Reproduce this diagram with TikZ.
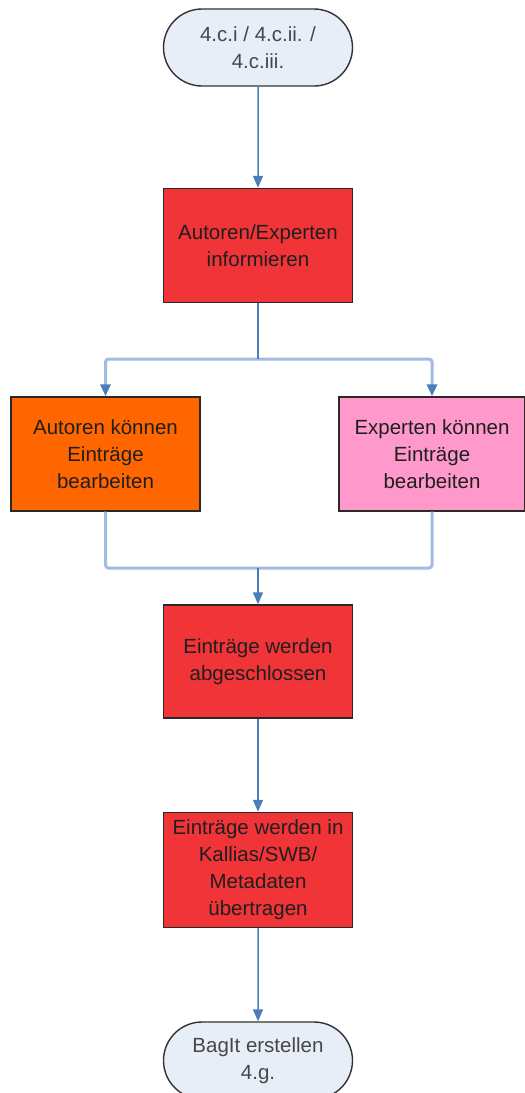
\documentclass[tikz,border=0pt]{standalone}
\usepackage{fontspec}
\setmainfont{Liberation Sans}
\usetikzlibrary{arrows.meta,shapes.misc}

\definecolor{boxred}{RGB}{240,52,56}
\definecolor{boxorange}{RGB}{255,102,0}
\definecolor{boxpink}{RGB}{255,153,204}
\definecolor{termfill}{RGB}{232,238,247}
\definecolor{linkdark}{RGB}{74,126,187}
\definecolor{linklight}{RGB}{160,188,228}
\definecolor{edgecol}{RGB}{45,40,40}

\begin{document}
\begin{tikzpicture}[x=1pt,y=-1pt,
  base/.style={draw=edgecol, line width=1.4pt, minimum width=189pt,
    inner sep=0pt, align=center, font=\fontsize{20.5}{27}\selectfont},
  process/.style={base, rectangle, minimum height=114pt, text=black!88},
  terminal/.style={base, rounded rectangle, minimum height=77pt,
    fill=termfill, draw=black!80, text=black!72},
  tiphead/.style={-{Triangle[length=12pt,width=10pt,color=linkdark]}},
  flow/.style={draw=linkdark, line width=1.5pt},
  branch/.style={draw=linklight, line width=3pt, rounded corners=3pt}
]
\clip (0,0) rectangle (525,1093);
\fill[white] (0,0) rectangle (525,1093);

% nodes
\node[terminal] (start) at (258,47.5) {4.c.i / 4.c.ii. /\\4.c.iii.};
\node[process, fill=boxred] (inform) at (258,245.5) {Autoren/Experten\\informieren};
\node[process, fill=boxorange] (autoren) at (105.5,454) {Autoren können\\Einträge\\bearbeiten};
\node[process, fill=boxpink, minimum width=186pt] (experten) at (432,454) {Experten können\\Einträge\\bearbeiten};
\node[process, fill=boxred, minimum height=113pt] (close) at (258,661.5) {Einträge werden\\abgeschlossen};
\node[process, fill=boxred, minimum height=115pt] (transfer) at (258,870) {Einträge werden in\\Kallias/SWB/\\Metadaten\\übertragen};
\node[terminal] (bagit) at (258,1060.5) {BagIt erstellen\\4.g.};

\coordinate (split) at (258,359);
\coordinate (merge) at (258,568);

% connectors
\draw[flow, tiphead] (start) -- (inform);
\draw[branch, tiphead] (split) -| (autoren.north);
\draw[branch, tiphead] (split) -| (experten.north);
\draw[flow] (inform) -- (split);
\draw[branch] (autoren.south) |- (merge) -| (experten.south);
\draw[flow, tiphead] (merge) -- (close);
\draw[flow, tiphead] (close) -- (transfer);
\draw[flow, tiphead] (transfer) -- (bagit);
\end{tikzpicture}
\end{document}
